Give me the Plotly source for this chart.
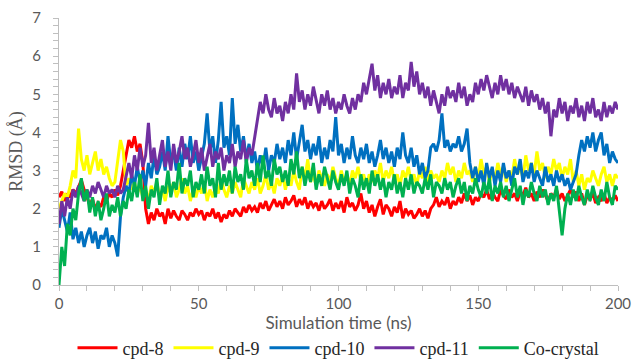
import plotly.graph_objects as go

time_ns = list(range(201))

cpd8 = [
    2.3, 2.45, 2.2, 2.4, 2.3, 2.5, 2.4, 2.6, 2.75, 2.5,
    2.3, 2.1, 2.25, 2.0, 2.15, 2.05, 2.3, 2.2, 2.4, 2.3,
    2.5, 2.35, 2.6, 3.0, 3.4, 3.8, 3.6, 3.9, 3.5, 3.7,
    3.2, 2.0, 1.6, 1.9, 1.7, 2.0, 1.8, 1.9, 1.6, 2.0,
    1.75, 1.95, 1.8, 1.7, 1.95, 1.85, 1.7, 1.9, 1.8, 2.0,
    1.85, 1.95, 1.7, 1.9, 1.8, 2.0, 1.75, 1.9, 1.65, 1.85,
    1.75, 1.95, 1.8, 2.0, 1.9, 1.8, 2.05, 1.9, 2.1, 1.95,
    2.05, 1.9, 2.15, 2.0, 2.2, 1.95, 2.1, 2.25, 2.05, 2.2,
    2.0, 2.3, 2.1, 2.2, 2.35, 2.05, 2.25, 2.1, 2.3, 2.0,
    2.2, 2.05, 2.15, 1.95, 2.2, 2.0, 2.1, 2.25, 1.95, 2.15,
    2.0, 2.2, 1.9, 2.3, 2.05, 2.15, 1.95, 2.1, 2.4, 2.0,
    2.2, 1.9, 2.1, 1.8, 2.05, 2.25, 1.85, 2.1, 2.0, 1.8,
    2.05, 1.9, 2.2, 1.75, 2.0, 1.85, 1.95, 1.75, 1.85, 2.0,
    1.8, 1.95, 1.75, 2.0, 2.1, 2.3, 2.05, 2.2, 2.1, 2.3,
    2.0, 2.2, 2.1, 2.3, 2.15, 2.4, 2.2, 2.35, 2.1, 2.3,
    2.2, 2.4, 2.3, 2.5, 2.25, 2.45, 2.3, 2.2, 2.5, 2.35,
    2.25, 2.5, 2.3, 2.4, 2.2, 2.45, 2.35, 2.55, 2.3, 2.4,
    2.2, 2.45, 2.3, 2.5, 2.35, 2.2, 2.4, 2.3, 2.5, 2.25,
    2.4, 2.2, 2.35, 2.5, 2.3, 2.45, 2.2, 2.4, 2.1, 2.35,
    2.25, 2.4, 2.15, 2.3, 2.2, 2.4, 2.15, 2.3, 2.2, 2.35,
    2.2,
]

cpd9 = [
    2.0, 2.2, 2.4, 2.3, 2.6, 3.0, 2.8, 4.1, 3.3, 3.0,
    3.4, 2.9, 3.2, 3.5, 3.0, 3.3, 2.9, 3.1, 2.8, 2.6,
    2.7, 3.3, 3.8, 3.5, 2.6, 2.8, 2.5, 2.7, 2.4, 2.6,
    2.3, 2.5, 2.2, 2.6, 2.4, 2.7, 2.3, 2.5, 2.2, 2.6,
    2.4, 2.7, 2.3, 2.5, 2.8, 2.4, 2.6, 2.2, 2.5, 2.3,
    2.6, 2.4, 2.7, 2.2, 2.5, 2.3, 2.6, 2.4, 2.8, 2.5,
    2.3, 2.6, 2.4, 2.7, 2.5, 2.3, 2.8, 2.6, 2.4, 2.7,
    2.5, 2.8, 2.4, 2.6, 2.9, 2.5, 2.7, 2.4, 2.8, 2.6,
    2.9, 2.5, 2.8, 2.6, 3.0, 2.7, 2.5, 3.1, 2.8, 3.3,
    2.7, 2.9, 2.6, 3.0, 2.8, 2.6, 2.9, 2.7, 3.1, 2.8,
    2.6, 3.0, 2.7, 2.9, 2.6, 3.0, 2.8, 3.1, 2.7, 2.9,
    2.6, 2.9, 2.7, 3.0, 2.8, 3.2, 2.7, 3.0, 2.8, 3.1,
    2.7, 2.9, 2.6, 3.0, 2.8, 3.1, 2.7, 2.9, 2.6, 3.0,
    2.8, 3.1, 2.7, 3.0, 2.8, 2.9, 2.7, 3.0, 2.8, 3.2,
    2.9, 3.1, 2.7, 3.0, 2.8, 3.2, 2.9, 3.0, 2.7, 3.1,
    2.8, 3.3, 2.9, 3.1, 2.7, 3.0, 2.8, 3.2, 2.9, 3.1,
    2.7, 3.0, 2.8, 3.3, 2.9, 3.1, 2.8, 3.4, 3.0, 3.2,
    2.9, 3.5, 3.0, 3.2, 2.8, 3.1, 2.9, 3.3, 3.0, 3.2,
    2.8, 3.1, 2.9, 3.3, 2.7, 3.0, 2.6, 2.9, 2.5, 2.8,
    2.7, 3.0, 2.8, 2.6, 2.9, 3.1, 2.7, 2.9, 2.6, 2.9,
    2.8,
]

cpd10 = [
    1.5, 2.0, 1.7, 1.4, 1.9, 1.2, 1.5, 1.1, 1.4, 1.0,
    1.3, 1.5, 1.1, 1.4, 0.95, 1.3, 1.2, 1.5, 1.0, 1.3,
    1.1, 0.75, 1.8, 2.3, 2.6, 2.4, 2.9, 2.6, 3.1, 2.7,
    3.0, 2.6, 3.2, 2.8, 3.4, 2.9, 3.1, 3.5, 3.0, 3.9,
    3.2, 3.5, 3.0, 3.6, 3.1, 3.7, 3.3, 3.9, 3.2, 3.5,
    3.0, 3.4, 3.7, 4.5, 3.5, 3.9, 3.2, 3.8, 4.8, 3.6,
    3.9, 3.4, 4.9, 3.7, 4.2, 3.5, 3.9, 3.3, 3.7, 3.2,
    3.5, 3.0, 3.4, 3.1, 3.6, 3.0, 3.4, 3.2, 3.7, 3.3,
    3.6, 3.2, 3.8, 3.4, 4.0, 3.3, 3.7, 4.2, 3.5, 3.8,
    3.3, 3.7, 3.4, 3.9, 3.2, 3.6, 3.3, 3.8, 3.5, 4.4,
    3.4, 3.7, 3.2, 3.6, 3.3, 3.9, 3.4, 3.2, 3.6, 3.3,
    3.7, 3.2, 3.5, 3.1, 3.4, 3.8, 3.3, 3.6, 3.2, 3.5,
    3.1, 3.6, 3.3, 4.0, 3.4, 3.2, 3.6, 3.1, 3.4, 2.9,
    3.2, 2.8, 3.0, 3.6, 3.7, 3.5, 3.8, 4.5, 3.6, 3.8,
    3.5, 3.7, 3.6, 3.9, 3.5, 3.7, 4.1, 3.2, 2.8, 3.1,
    2.7, 3.0, 2.6, 3.2, 2.8, 3.1, 2.6, 3.0, 2.7, 3.2,
    2.8, 3.0, 2.6, 3.1, 2.9, 3.3, 2.7, 3.0, 2.8, 3.2,
    2.7, 3.0, 2.8, 2.6, 3.1, 2.7, 2.9, 2.6, 3.0, 2.7,
    2.9, 2.6, 2.8, 2.5, 2.7, 2.9, 3.4, 3.8, 3.5, 3.9,
    3.6, 4.0, 3.5, 3.8, 4.0, 3.4, 3.7, 3.2, 3.5, 3.3,
    3.2,
]

cpd11 = [
    1.6, 2.2, 1.8, 2.3, 2.0, 2.5, 2.3, 2.6, 2.4, 2.2,
    2.5, 2.3, 2.6, 2.4, 2.7, 2.5, 2.3, 2.6, 2.4, 2.5,
    2.3, 2.6, 2.4, 2.5, 2.9, 3.2, 2.8, 3.4, 3.0, 3.6,
    3.1, 3.4, 4.25, 3.2, 3.6, 3.0, 3.4, 3.8, 3.1, 3.5,
    3.0, 3.7, 3.2, 3.5, 3.9, 3.3, 3.6, 3.1, 3.4, 3.8,
    3.2, 3.6, 3.0, 3.4, 3.7, 3.1, 3.5, 3.3, 3.6, 3.0,
    3.4, 3.2, 3.7, 3.1, 3.5, 3.3, 3.8, 3.2, 3.6, 3.4,
    3.9, 4.4, 4.8, 4.5, 5.0, 4.6, 4.4, 4.9, 4.5, 4.7,
    4.3, 4.8, 4.5, 5.0, 4.6, 5.55, 4.8, 5.1, 4.6, 5.0,
    4.7, 5.2, 4.8, 4.5, 5.0, 4.7, 5.1, 4.6, 4.9, 4.5,
    4.8, 4.6, 5.0, 4.7, 4.5, 4.9, 4.6, 5.0, 4.8, 5.3,
    5.0, 5.4, 5.8, 5.1, 5.5, 4.9, 5.3, 5.0, 5.4, 4.9,
    5.2, 5.0, 5.5, 4.9, 5.3, 5.1, 5.85, 5.2, 5.6, 5.0,
    5.3, 4.9, 5.2, 4.7, 5.1, 4.8, 4.5, 5.0, 4.7, 5.2,
    4.9, 5.1, 4.8, 5.3, 4.9, 5.2, 4.7, 5.0, 4.8, 5.3,
    5.0, 5.4, 5.1, 5.5, 5.2, 4.9, 5.3, 5.0, 5.5, 5.1,
    5.4, 5.0, 5.3, 4.9, 5.2, 5.0, 4.8, 5.2, 4.7, 5.1,
    4.8, 5.0, 4.6, 4.9, 4.5, 4.8, 3.9, 4.6, 4.4, 4.9,
    4.5, 4.8, 4.3, 4.7, 4.5, 4.9, 4.4, 4.7, 4.3, 4.8,
    4.5, 4.9, 4.4, 4.6, 4.3, 4.8, 4.4, 4.7, 4.5, 4.8,
    4.6,
]

cocrystal = [
    0.0, 1.0, 0.5, 1.6, 1.3, 2.0, 1.7, 2.4, 2.8, 2.2,
    2.5, 1.9, 2.3, 1.8, 2.2, 1.7, 2.0, 2.4, 1.8, 2.1,
    1.9, 2.3, 1.8, 2.2, 2.0, 2.5, 2.2, 2.7, 2.3, 2.9,
    2.2, 2.6, 2.0, 2.5, 2.3, 2.8, 2.1, 2.6, 2.4, 3.0,
    2.3, 2.7, 2.5, 3.2, 2.4, 2.8, 2.6, 3.0, 2.3, 2.7,
    2.5, 2.9, 2.4, 3.1, 2.6, 2.8, 2.3, 3.2, 2.5, 2.9,
    2.6, 3.0, 2.4, 3.1, 2.7, 2.9, 2.5, 3.3, 2.8, 3.0,
    2.6, 3.2, 2.7, 3.4, 2.8, 3.0, 2.6, 3.3, 2.9, 3.1,
    2.7, 3.0, 2.6, 3.3, 2.9, 3.5, 2.8, 3.1, 2.6, 3.0,
    2.7, 3.2, 2.5, 2.9, 2.6, 3.1, 2.8, 2.5, 3.0, 2.7,
    2.5, 2.9, 2.6, 3.0, 2.4, 2.8, 2.6, 2.3, 2.9, 2.5,
    2.8, 2.4, 3.0, 2.6, 2.9, 2.5, 2.8, 2.3, 2.7, 2.5,
    2.9, 2.4, 2.7, 2.3, 2.8, 2.5, 2.9, 2.4, 2.7, 2.6,
    2.4, 2.8, 2.5, 2.9, 2.3, 2.7, 2.6, 2.4, 2.8, 2.5,
    2.7, 2.3, 2.6, 2.8, 2.4, 2.7, 2.2, 2.6, 2.4, 2.8,
    2.5, 2.3, 2.7, 2.4, 2.8, 2.2, 2.6, 2.4, 2.7, 2.3,
    2.6, 2.2, 2.5, 2.8, 2.3, 2.6, 2.1, 2.5, 2.3, 2.7,
    2.4, 2.2, 2.6, 2.3, 2.5, 2.1, 2.4, 2.2, 2.6, 1.9,
    1.3, 2.0, 2.4, 2.1, 2.5, 2.2, 2.6, 2.3, 2.1, 2.5,
    2.2, 2.6, 2.3, 2.1, 2.5, 2.2, 2.7, 2.3, 2.1, 2.6,
    2.5,
]

series_names = ["cpd-8", "cpd-9", "cpd-10", "cpd-11", "Co-crystal"]
series_values = [cpd8, cpd9, cpd10, cpd11, cocrystal]
series_colors = ["#FF0000", "#FFFF00", "#0070C0", "#7030A0", "#00B050"]

x_tick_vals = [0, 50, 100, 150, 200]
y_tick_vals = [0, 1, 2, 3, 4, 5, 6, 7]

fig = go.Figure()
for name, vals, col in zip(series_names, series_values, series_colors):
    fig.add_trace(go.Scatter(
        x=time_ns, y=vals, mode="lines", name=name,
        line=dict(color=col, width=3),
    ))

axis_grey = "#BFBFBF"
label_grey = "#595959"

fig.update_layout(
    width=632, height=360,
    margin=dict(l=59, r=14, t=18, b=75, autoexpand=False),
    paper_bgcolor="white", plot_bgcolor="white",
    showlegend=True,
    legend=dict(
        orientation="h", x=0.5, xanchor="center", y=-0.236, yanchor="middle",
        font=dict(family="Liberation Serif", size=18, color="#262626"),
        itemwidth=40, tracegroupgap=0, bgcolor="rgba(0,0,0,0)",
    ),
    xaxis=dict(
        range=[0, 200], tickvals=x_tick_vals, showgrid=False, zeroline=False,
        automargin=False, ticklabeloverflow="allow",
        showline=True, linecolor=axis_grey, linewidth=1,
        ticks="outside", ticklen=5, tickcolor=axis_grey,
        minor=dict(dtick=10, ticks="outside", ticklen=5, tickcolor=axis_grey, showgrid=False),
        tickfont=dict(family="Lato", size=15, color=label_grey),
        title=dict(text="Simulation time (ns)", standoff=4,
                   font=dict(family="Lato", size=17, color=label_grey)),
    ),
    yaxis=dict(
        range=[0, 7], tickvals=y_tick_vals, showgrid=False, zeroline=False,
        automargin=False, ticklabeloverflow="allow",
        showline=True, linecolor=axis_grey, linewidth=1,
        ticks="outside", ticklen=5, tickcolor=axis_grey,
        minor=dict(dtick=0.2, ticks="outside", ticklen=5, tickcolor=axis_grey, showgrid=False),
        tickfont=dict(family="Lato", size=15, color=label_grey),
        ticklabelstandoff=9,
        title=dict(text="RMSD (Å)", standoff=4,
                   font=dict(family="Liberation Serif", size=18, color=label_grey)),
    ),
)

fig.write_html(
    "out.html",
    config={"displayModeBar": False},
    post_script="document.body.style.margin='0';document.body.style.overflow='hidden';",
)
